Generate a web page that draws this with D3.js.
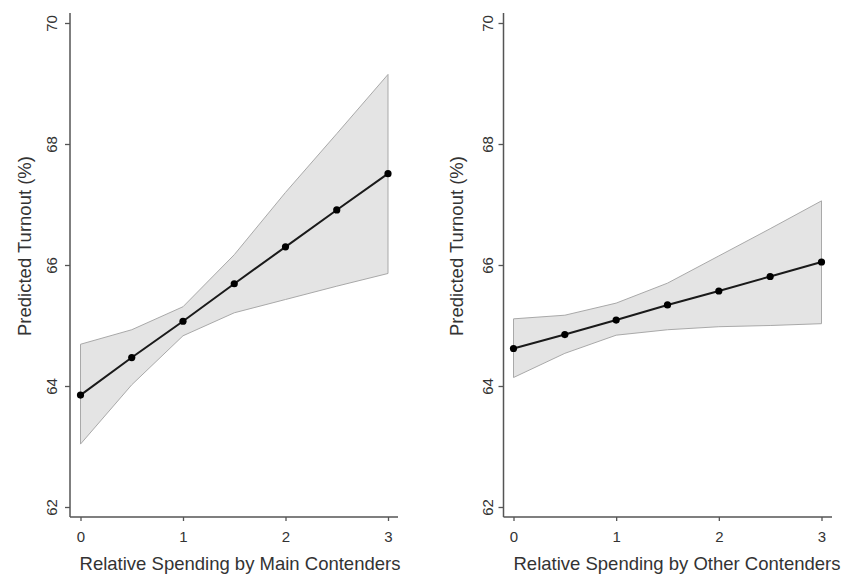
<!DOCTYPE html>
<html>
<head>
<meta charset="utf-8">
<script src="https://cdn.jsdelivr.net/npm/d3@7"></script>
<style>
  body { margin: 0; background: #fff; }
  svg { display: block; font-family: 'Liberation Sans', Arial, sans-serif; }
</style>
</head>
<body>
<div id="chart"></div>
<script>
// Spending levels on the x axis
const spendLevels = [0, 0.5, 1, 1.5, 2, 2.5, 3];

// Main contenders: predicted turnout and 95% interval
const mainFit = [63.85, 64.47, 65.07, 65.69, 66.30, 66.91, 67.51];
const mainUpper = [64.69, 64.93, 65.31, 66.17, 67.2, 68.17, 69.15];
const mainLower = [63.04, 64.02, 64.83, 65.21, 65.43, 65.65, 65.86];

// Other contenders
const otherFit = [64.62, 64.85, 65.09, 65.34, 65.57, 65.81, 66.05];
const otherUpper = [65.11, 65.17, 65.37, 65.70, 66.15, 66.60, 67.06];
const otherLower = [64.14, 64.54, 64.84, 64.93, 64.98, 65.00, 65.03];

const yTicks = [62, 64, 66, 68, 70];
const xTicks = [0, 1, 2, 3];
const yTitle = 'Predicted Turnout (%)';

const panels = [
  { title: 'Relative Spending by Main Contenders', fit: mainFit, upper: mainUpper, lower: mainLower,
    axisX: 70, xRange: [80.5, 388], axisEnd: 398, titleX: 240, yTitleX: 24.5, yLabX: 52 },
  { title: 'Relative Spending by Other Contenders', fit: otherFit, upper: otherUpper, lower: otherLower,
    axisX: 503.5, xRange: [513.5, 821.5], axisEnd: 832, titleX: 677, yTitleX: 457, yLabX: 488 }
];

const width = 846, height = 576;
const axisY = 517, axisTop = 13;
const axisColor = '#555', textColor = '#333';

const svg = d3.select('#chart').append('svg')
  .attr('width', width)
  .attr('height', height);

// shared y scale
const y = d3.scaleLinear().domain([62, 70]).range([507, 23]);

panels.forEach((p) => {
  const g = svg.append('g');
  const x = d3.scaleLinear().domain([0, 3]).range(p.xRange);

  const rows = spendLevels.map((s, i) => ({ s, fit: p.fit[i], hi: p.upper[i], lo: p.lower[i] }));

  // Confidence band
  const area = d3.area()
    .x((d) => x(d.s))
    .y0((d) => y(d.lo))
    .y1((d) => y(d.hi));
  g.append('path')
    .datum(rows)
    .attr('d', area)
    .attr('fill', '#e4e4e4')
    .attr('stroke', '#a9a9a9')
    .attr('stroke-width', 1);

  // Fitted line
  const line = d3.line()
    .x((d) => x(d.s))
    .y((d) => y(d.fit));
  g.append('path')
    .datum(rows)
    .attr('d', line)
    .attr('fill', 'none')
    .attr('stroke', '#1a1a1a')
    .attr('stroke-width', 2);

  // Points
  g.selectAll('circle.pt')
    .data(rows)
    .enter()
    .append('circle')
    .attr('class', 'pt')
    .attr('cx', (d) => x(d.s))
    .attr('cy', (d) => y(d.fit))
    .attr('r', 3.6)
    .attr('fill', '#000');

  // Y axis
  const yAxis = g.append('g')
    .attr('transform', 'translate(' + p.axisX + ',0)')
    .call(d3.axisLeft(y).tickValues(yTicks).tickSize(5).tickFormat(d3.format('d')));
  yAxis.select('.domain').remove();
  yAxis.selectAll('line').attr('stroke', axisColor).attr('stroke-width', 1.3);
  yAxis.selectAll('text')
    .attr('x', 0)
    .attr('dy', '0.35em')
    .attr('transform', 'translate(' + (p.yLabX - p.axisX) + ',0) rotate(-90)')
    .attr('text-anchor', 'middle')
    .attr('fill', textColor)
    .style('font-size', '15px')
    .style('font-family', "'Liberation Sans', Arial, sans-serif");

  // X axis
  const xAxis = g.append('g')
    .attr('transform', 'translate(0,' + axisY + ')')
    .call(d3.axisBottom(x).tickValues(xTicks).tickSize(4).tickFormat(d3.format('d')));
  xAxis.select('.domain').remove();
  xAxis.selectAll('line').attr('stroke', axisColor).attr('stroke-width', 1.3);
  xAxis.selectAll('text')
    .attr('y', 0)
    .attr('dy', 25)
    .attr('fill', textColor)
    .style('font-size', '15px')
    .style('font-family', "'Liberation Sans', Arial, sans-serif");

  // Axis lines
  g.append('line')
    .attr('x1', p.axisX).attr('x2', p.axisX)
    .attr('y1', axisTop).attr('y2', axisY)
    .attr('stroke', axisColor).attr('stroke-width', 1.5);
  g.append('line')
    .attr('x1', p.axisX).attr('x2', p.axisEnd)
    .attr('y1', axisY).attr('y2', axisY)
    .attr('stroke', axisColor).attr('stroke-width', 1.5);

  // X title
  g.append('text')
    .attr('x', p.titleX)
    .attr('y', 570)
    .attr('text-anchor', 'middle')
    .attr('fill', textColor)
    .style('font-size', '18.5px')
    .text(p.title);

  // Y title
  g.append('text')
    .attr('transform', 'translate(' + p.yTitleX + ',246) rotate(-90)')
    .attr('dy', '0.35em')
    .attr('text-anchor', 'middle')
    .attr('fill', textColor)
    .style('font-size', '18.5px')
    .text(yTitle);
});
</script>
</body>
</html>
